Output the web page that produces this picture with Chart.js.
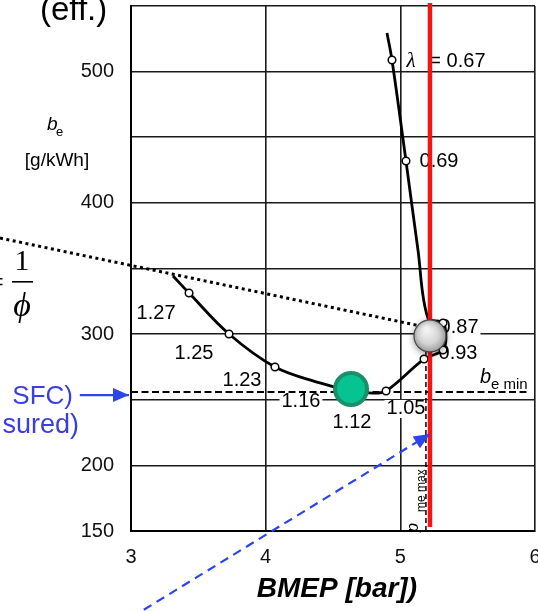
<!DOCTYPE html>
<html>
<head>
<meta charset="utf-8">
<script src="https://cdn.jsdelivr.net/npm/chart.js@4.4.1/dist/chart.umd.min.js"></script>
<style>
  html, body { margin: 0; padding: 0; background: #fff; }
  #wrap { position: relative; width: 538px; height: 611px; }
</style>
</head>
<body>
<div id="wrap"><canvas id="sfc"></canvas></div>
<script>
// b_e over BMEP
var curveX = [4.901, 4.938, 5.042, 5.131, 5.205, 5.317, 5.339, 5.317, 5.176, 4.894, 4.790, 4.634, 4.403, 4.069, 3.728, 3.431, 3.312];
var curveY = [529.4, 508.9, 431.9, 364.1, 312.3, 308.5, 297.8, 287.9, 281.0, 256.7, 255.1, 256.7, 262.8, 275.0, 300.1, 331.3, 344.3];

// measured lambda points (open circles)
var markerX = [4.938, 5.042, 5.317, 5.317, 5.176, 4.894, 4.634, 4.069, 3.728, 3.431];
var markerY = [508.9, 431.9, 308.5, 287.9, 281.0, 256.7, 256.7, 275.0, 300.1, 331.3];

// lambda labels
var lamText = ['0.69', '0.87', '0.93', '1.05', '1.12', '1.16', '1.23', '1.25', '1.27'];
var lamTextX = [5.287, 5.436, 5.428, 5.042, 4.641, 4.262, 3.824, 3.468, 3.186];
var lamTextY = [431.9, 305.4, 285.6, 243.0, 232.3, 248.3, 265.0, 285.6, 316.1];

// tangent line 1/phi
var tangentX = [2.027, 5.22];
var tangentY = [373.2, 304.7];

// b_e min and p_me max
var beMinX = [3.0, 5.948];
var beMinY = [255.9, 255.9];
var pmeX = [5.19, 5.19];
var pmeY = [150, 295];

// full load limit (red) and the two highlighted points
var limitX = [5.22, 5.22];
var limitY = [552.3, 153];
var refX = [5.22];
var refY = [298.6];
var optX = [4.634];
var optY = [258.2];

// blue arrows
var arrowAX = [2.62, 2.985];
var arrowAY = [253.6, 253.6];
var arrowBX = [3.0, 5.22];
var arrowBY = [84, 223.9];

var yLabelled = [150, 200, 300, 400, 500];

var SANS = "'Liberation Sans', Arial, sans-serif";
var SERIF = "'Liberation Serif', 'Times New Roman', serif";
var BLUE = '#2c44ee';

function pts(xs, ys) {
  return xs.map(function (x, i) { return { x: x, y: ys[i] }; });
}

function head(ctx, x0, y0, x1, y1, len, half, color) {
  var a = Math.atan2(y1 - y0, x1 - x0);
  ctx.save();
  ctx.translate(x1, y1);
  ctx.rotate(a);
  ctx.beginPath();
  ctx.moveTo(0, 0);
  ctx.lineTo(-len, -half);
  ctx.lineTo(-len, half);
  ctx.closePath();
  ctx.fillStyle = color;
  ctx.fill();
  ctx.restore();
}

var notes = {
  id: 'notes',
  beforeDatasetsDraw: function (chart) {
    var ctx = chart.ctx, sx = chart.scales.x, sy = chart.scales.y;
    ctx.save();
    ctx.font = '20px ' + SANS;
    ctx.textAlign = 'center';
    ctx.textBaseline = 'middle';
    lamText.forEach(function (t, i) {
      var x = sx.getPixelForValue(lamTextX[i]), y = sy.getPixelForValue(lamTextY[i]);
      var w = ctx.measureText(t).width;
      ctx.fillStyle = '#fff';
      ctx.fillRect(x - w / 2 - 2, y - 9, w + 4, 18);
      ctx.fillStyle = '#000';
      ctx.fillText(t, x, y);
    });
    // lambda = 0.67
    var ly = sy.getPixelForValue(508.1);
    ctx.font = 'italic 21px ' + SERIF;
    ctx.fillText('\u03bb', sx.getPixelForValue(5.079), ly);
    ctx.font = '20px ' + SANS;
    ctx.fillText('= 0.67', sx.getPixelForValue(5.424), ly);
    // b_e min
    ctx.textAlign = 'left';
    ctx.textBaseline = 'alphabetic';
    ctx.font = 'italic 20px ' + SANS;
    ctx.fillText('b', 480, 383);
    ctx.font = '15px ' + SANS;
    ctx.fillText('e min', 491, 389);
    // p_me max, rotated
    ctx.save();
    ctx.translate(418, 532);
    ctx.rotate(-Math.PI / 2);
    ctx.font = 'italic 16px ' + SANS;
    ctx.fillText('p', 0, 0);
    ctx.font = '12px ' + SANS;
    ctx.fillText('me max', 20, 7);
    ctx.restore();
    ctx.restore();
  },
  beforeDatasetDraw: function (chart, args) {
    if (chart.data.datasets[args.index].shadow) {
      var ctx = chart.ctx;
      ctx.save();
      ctx.shadowColor = 'rgba(0,0,0,0.35)';
      ctx.shadowBlur = 7;
      ctx.shadowOffsetY = 2;
    }
  },
  afterDatasetDraw: function (chart, args) {
    if (chart.data.datasets[args.index].shadow) chart.ctx.restore();
  },
  afterDatasetsDraw: function (chart) {
    var ctx = chart.ctx;
    chart.data.datasets.forEach(function (ds, i) {
      if (!ds.arrowHead) return;
      var el = chart.getDatasetMeta(i).data;
      var a = el[el.length - 2], b = el[el.length - 1];
      head(ctx, a.x, a.y, b.x, b.y, 16, 7, ds.borderColor);
    });
  },
  afterDraw: function (chart) {
    var ctx = chart.ctx;
    ctx.save();
    ctx.fillStyle = '#000';
    ctx.textBaseline = 'alphabetic';
    ctx.textAlign = 'left';
    ctx.font = '33px ' + SANS;
    ctx.fillText('(eff.)', 40, 20);
    // y axis label
    ctx.font = 'italic 19px ' + SANS;
    ctx.fillText('b', 47, 130);
    ctx.font = '13px ' + SANS;
    ctx.fillText('e', 56, 136);
    ctx.font = '19px ' + SANS;
    ctx.textAlign = 'center';
    ctx.fillText('[g/kWh]', 57, 166);
    // = 1/phi
    ctx.font = '30px ' + SERIF;
    ctx.fillText('1', 22, 270);
    ctx.textAlign = 'right';
    ctx.fillText('=', 4, 292);
    ctx.textAlign = 'center';
    ctx.font = 'italic 34px ' + SERIF;
    ctx.fillText('\u03d5', 22, 316);
    ctx.fillRect(12, 281, 21, 1.6);
    // blue notes
    ctx.fillStyle = '#3a3de0';
    ctx.textAlign = 'right';
    ctx.font = '26px ' + SANS;
    ctx.fillText('SFC)', 73, 404);
    ctx.font = '27px ' + SANS;
    ctx.fillText('sured)', 79, 433);
    ctx.restore();
  }
};

var grayFill = function (c) {
  var ch = c.chart;
  if (!ch.chartArea) return '#d0d0d0';
  var cx = ch.scales.x.getPixelForValue(refX[0]), cy = ch.scales.y.getPixelForValue(refY[0]);
  var g = ch.ctx.createRadialGradient(cx - 4, cy - 8, 1, cx, cy, 17);
  g.addColorStop(0, '#f8f8f8');
  g.addColorStop(0.6, '#d6d6d6');
  g.addColorStop(1, '#a0a0a0');
  return g;
};

var line = function (xs, ys, color, width, dash, order, extra) {
  var ds = {
    data: pts(xs, ys), showLine: true, borderColor: color, borderWidth: width,
    borderDash: dash, pointRadius: 0, pointHoverRadius: 0, order: order, clip: false
  };
  for (var k in extra) ds[k] = extra[k];
  return ds;
};

new Chart(document.getElementById('sfc'), {
  type: 'scatter',
  data: {
    datasets: [
      { data: pts(refX, refY), pointRadius: 16, pointHoverRadius: 16, backgroundColor: grayFill,
        borderColor: '#444', borderWidth: 1.2, order: 0, clip: false, shadow: true },
      { data: pts(optX, optY), pointRadius: 16, pointHoverRadius: 16, backgroundColor: '#06c392',
        borderColor: '#1b8f68', borderWidth: 4, order: 1, clip: false },
      line(limitX, limitY, '#f41414', 4.5, [], 2),
      { data: pts(markerX, markerY), pointRadius: 3.8, backgroundColor: '#fff',
        borderColor: '#000', borderWidth: 1.5, order: 3, clip: false },
      line(curveX, curveY, '#000', 2.8, [], 4, { tension: 0.35 }),
      line(tangentX, tangentY, '#000', 3, [3, 3.5], 5),
      line(beMinX, beMinY, '#000', 1.8, [7, 3.5], 5),
      line(pmeX, pmeY, '#000', 1.5, [5, 3], 6),
      line(arrowAX, arrowAY, BLUE, 2.2, [], 5, { arrowHead: true }),
      line(arrowBX, arrowBY, BLUE, 2.2, [9, 6], 5, { arrowHead: true })
    ]
  },
  options: {
    responsive: true,
    maintainAspectRatio: false,
    animation: false,
    events: [],
    layout: { autoPadding: false, padding: { top: 6, left: 0, right: 3, bottom: 0 } },
    plugins: { legend: { display: false }, tooltip: { enabled: false } },
    scales: {
      x: {
        type: 'linear', min: 3, max: 6,
        grid: { color: '#1a1a1a', lineWidth: 1.6, drawTicks: false },
        border: { display: true, color: '#000', width: 2 },
        ticks: { stepSize: 1, padding: 14, color: '#111', font: { family: SANS, size: 20 } },
        title: { display: true, text: ' BMEP [bar])', color: '#000', padding: { top: 0, bottom: 5 },
                 font: { family: SANS, size: 28, weight: 'bold', style: 'italic' } },
        afterFit: function (s) { s.height = 80; s.paddingLeft = 0; s.paddingRight = 0; }
      },
      y: {
        type: 'linear', min: 150, max: 550,
        grid: { color: '#1a1a1a', lineWidth: 1.6, drawTicks: false },
        border: { display: true, color: '#000', width: 2 },
        ticks: {
          stepSize: 50, padding: 17, color: '#111', font: { family: SANS, size: 20 },
          callback: function (v) { return yLabelled.indexOf(v) >= 0 ? v : ''; }
        },
        afterFit: function (s) { s.width = 131; s.paddingTop = 0; s.paddingBottom = 0; }
      }
    }
  },
  plugins: [notes]
});
</script>
</body>
</html>
